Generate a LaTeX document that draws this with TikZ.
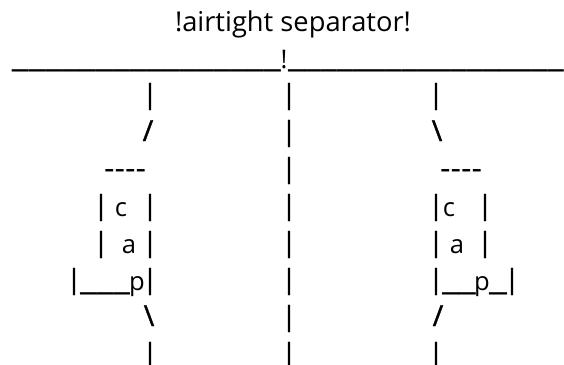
\documentclass[tikz,border=0pt]{standalone}
\usepackage{fontspec}
\setmainfont{Open Sans}
\newfontface\heavyface[FakeBold=1.2]{Open Sans}
\newcommand{\uline}[2]{\resizebox*{#1pt}{5.5pt}{#2}}
\tikzset{
  chr/.style={anchor=base,inner sep=0pt,outer sep=0pt,font=\fontsize{25.6pt}{30pt}\selectfont,text=black},
  stroke/.style={anchor=base,inner sep=0pt,outer sep=0pt,font=\heavyface\fontsize{27pt}{32pt}\selectfont,text=black,yshift=1.5pt},
  slant/.style={anchor=base,inner sep=0pt,outer sep=0pt,font=\heavyface\fontsize{29pt}{34pt}\selectfont,text=black,yshift=1pt},
  lineleft/.style={anchor=base west,inner sep=0pt,outer sep=0pt,text=black}
}
\begin{document}
\begin{tikzpicture}[x=1pt,y=-1pt]
\useasboundingbox (0,0) rectangle (564,364);
\clip (0,0) rectangle (564,364);
% title
\node[chr] (title) at (293,31) {\resizebox{236pt}{!}{!airtight separator!}};
% separator line
\node[lineleft] (ruleL) at (12,66) {\uline{269}{\_\_\_\_\_\_\_\_\_\_\_\_\_\_\_\_}};
\node[chr] (bang) at (284,68) {!};
\node[lineleft] (ruleR) at (288,66) {\uline{276}{\_\_\_\_\_\_\_\_\_\_\_\_\_\_\_\_\_}};
% centre column
\foreach \r/\y in {a/105,b/142,c/179,d/216,e/253,f/290,g/327,h/364}
  \node[stroke] (mid\r) at (289,\y) {|};
% row 1 and 2
\node[stroke] (la) at (150,105) {|};
\node[stroke] (ra) at (436,105) {|};
\node[slant] (lb) at (148,142) {/};
\node[slant] (rb) at (437,142) {\textbackslash};
% lids
\node[lineleft] (lidL) at (104,179) {\resizebox{42pt}{!}{-{}-{}-{}-}};
\node[lineleft] (lidR) at (440,179) {\resizebox{42pt}{!}{-{}-{}-{}-}};
% row 4
\node[stroke] (ld1) at (101,216) {|};
\node[chr] (lc) at (121,216) {c};
\node[stroke] (ld2) at (150,216) {|};
\node[stroke] (rd1) at (436,216) {|};
\node[chr] (rc) at (449,216) {c};
\node[stroke] (rd2) at (485,216) {|};
% row 5
\node[stroke] (le1) at (101,253) {|};
\node[chr] (lA) at (129,253) {a};
\node[stroke] (le2) at (150,253) {|};
\node[stroke] (re1) at (436,253) {|};
\node[chr] (rA) at (457,253) {a};
\node[stroke] (re2) at (485,253) {|};
% row 6
\node[stroke] (lf1) at (74,290) {|};
\node[lineleft] (lfu) at (80,289) {\uline{50}{\_\_\_}};
\node[chr] (lp) at (137,290) {p};
\node[stroke] (lf2) at (150,290) {|};
\node[stroke] (rf1) at (436,290) {|};
\node[lineleft] (rfu) at (442,289) {\uline{34}{\_\_}};
\node[chr] (rp) at (482,290) {p};
\node[lineleft] (rfv) at (489,289) {\uline{18}{\_}};
\node[stroke] (rf2) at (512,290) {|};
% row 7 and 8
\node[slant] (lg) at (149,327) {\textbackslash};
\node[slant] (rg) at (438,327) {/};
\node[stroke] (lh) at (150,364) {|};
\node[stroke] (rh) at (436,364) {|};
\end{tikzpicture}
\end{document}
